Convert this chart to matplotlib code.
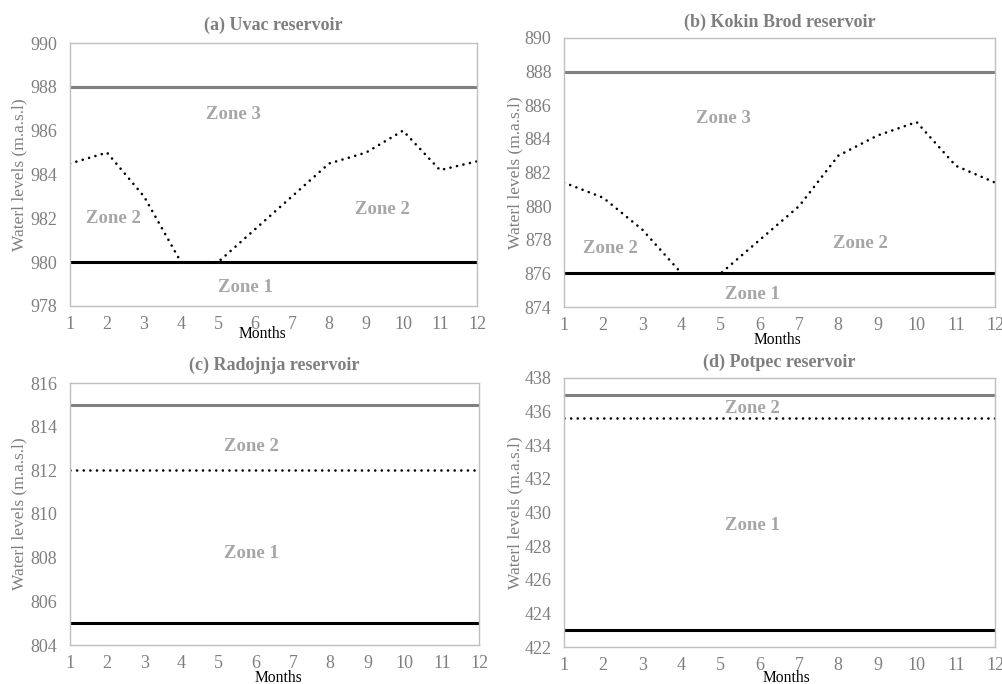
import matplotlib
matplotlib.use("Agg")
import matplotlib.pyplot as plt

plt.rcParams['font.family'] = ['Liberation Serif', 'DejaVu Serif']

months = list(range(1, 13))

# (a) Uvac
uvac_level = [984.5, 985.0, 983.0, 980.0, 980.0, 981.5, 983.0, 984.5, 985.0, 986.0, 984.2, 984.6]
uvac_upper = 988
uvac_lower = 980
# (b) Kokin Brod
kokin_level = [881.4, 880.5, 878.6, 876.0, 876.0, 878.0, 880.0, 883.0, 884.2, 885.0, 882.4, 881.4]
kokin_upper = 888
kokin_lower = 876
# (c) Radojnja
radojnja_level = [812] * 12
radojnja_upper = 815
radojnja_lower = 805
# (d) Potpec
potpec_level = [435.6] * 12
potpec_upper = 437
potpec_lower = 423

titles = ["(a) Uvac reservoir", "(b) Kokin Brod reservoir",
          "(c) Radojnja reservoir", "(d) Potpec reservoir"]
ylims = [(978, 990), (874, 890), (804, 816), (422, 438)]
yticks = [list(range(978, 991, 2)), list(range(874, 891, 2)),
          list(range(804, 817, 2)), list(range(422, 439, 2))]

zone_labels = [
    [("Zone 3", 5.42, 986.75), ("Zone 2", 2.16, 982.0), ("Zone 2", 9.43, 982.4), ("Zone 1", 5.74, 978.85)],
    [("Zone 3", 5.08, 885.2), ("Zone 2", 2.19, 877.5), ("Zone 2", 8.57, 877.8), ("Zone 1", 5.8, 874.75)],
    [("Zone 2", 5.88, 813.07), ("Zone 1", 5.87, 808.17)],
    [("Zone 2", 5.8, 436.17), ("Zone 1", 5.8, 429.25)],
]

levels = [uvac_level, kokin_level, radojnja_level, potpec_level]
uppers = [uvac_upper, kokin_upper, radojnja_upper, potpec_upper]
lowers = [uvac_lower, kokin_lower, radojnja_lower, potpec_lower]

positions = [
    [70/1003, 1-306/684, 407/1003, 263/684],
    [564/1003, 1-307/684, 431/1003, 269/684],
    [70/1003, 1-645/684, 409/1003, 262/684],
    [564/1003, 1-647/684, 431/1003, 269/684],
]
months_pos = [(262, 334), (777, 340), (278, 678), (786, 678)]
ylabel_x = [27, 523, 27, 523]
title_y = [25, 22, 365, 362]

fig = plt.figure(figsize=(10.03, 6.84), dpi=100)
TICK_C = "#7f7f7f"
for i in range(4):
    ax = fig.add_axes(positions[i])
    ax.plot(months, [uppers[i]] * 12, color="#808080", lw=2.2, solid_capstyle='butt')
    ax.plot(months, [lowers[i]] * 12, color="black", lw=2.2, solid_capstyle='butt')
    ax.plot(months, levels[i], color="black", lw=1.9, linestyle=(0, (0.01, 2.5)),
            dash_capstyle='round')
    ax.set_xlim(1, 12)
    ax.set_ylim(*ylims[i])
    ax.set_xticks(months)
    ax.set_yticks(yticks[i])
    ax.tick_params(length=0, labelsize=13, colors=TICK_C)
    ax.tick_params(axis='y', pad=9)
    ax.tick_params(axis='x', pad=7)
    for s in ax.spines.values():
        s.set_color("#BFBFBF")
        s.set_linewidth(1.0)
    fig.text((positions[i][0] + positions[i][2] / 2), 1 - title_y[i] / 684, titles[i],
             fontsize=13, fontweight="bold", color="#7f7f7f", ha="center", va="center")
    ax.set_ylabel("Waterl levels (m.a.s.l)", fontsize=12.5, color=TICK_C)
    bbox_left = positions[i][0] * 1003
    ax.yaxis.set_label_coords((ylabel_x[i] - bbox_left) / (positions[i][2] * 1003), 0.5)
    for txt, x, y in zone_labels[i]:
        ax.text(x, y, txt, fontsize=13.5, fontweight="bold", color="#A6A6A6",
                ha="center", va="center")
    mx, my = months_pos[i]
    fig.text(mx/1003, 1-my/684, "Months", fontsize=11.2, color="black",
             ha="center", va="center")

fig.savefig("out.png", dpi=100, facecolor="white")
